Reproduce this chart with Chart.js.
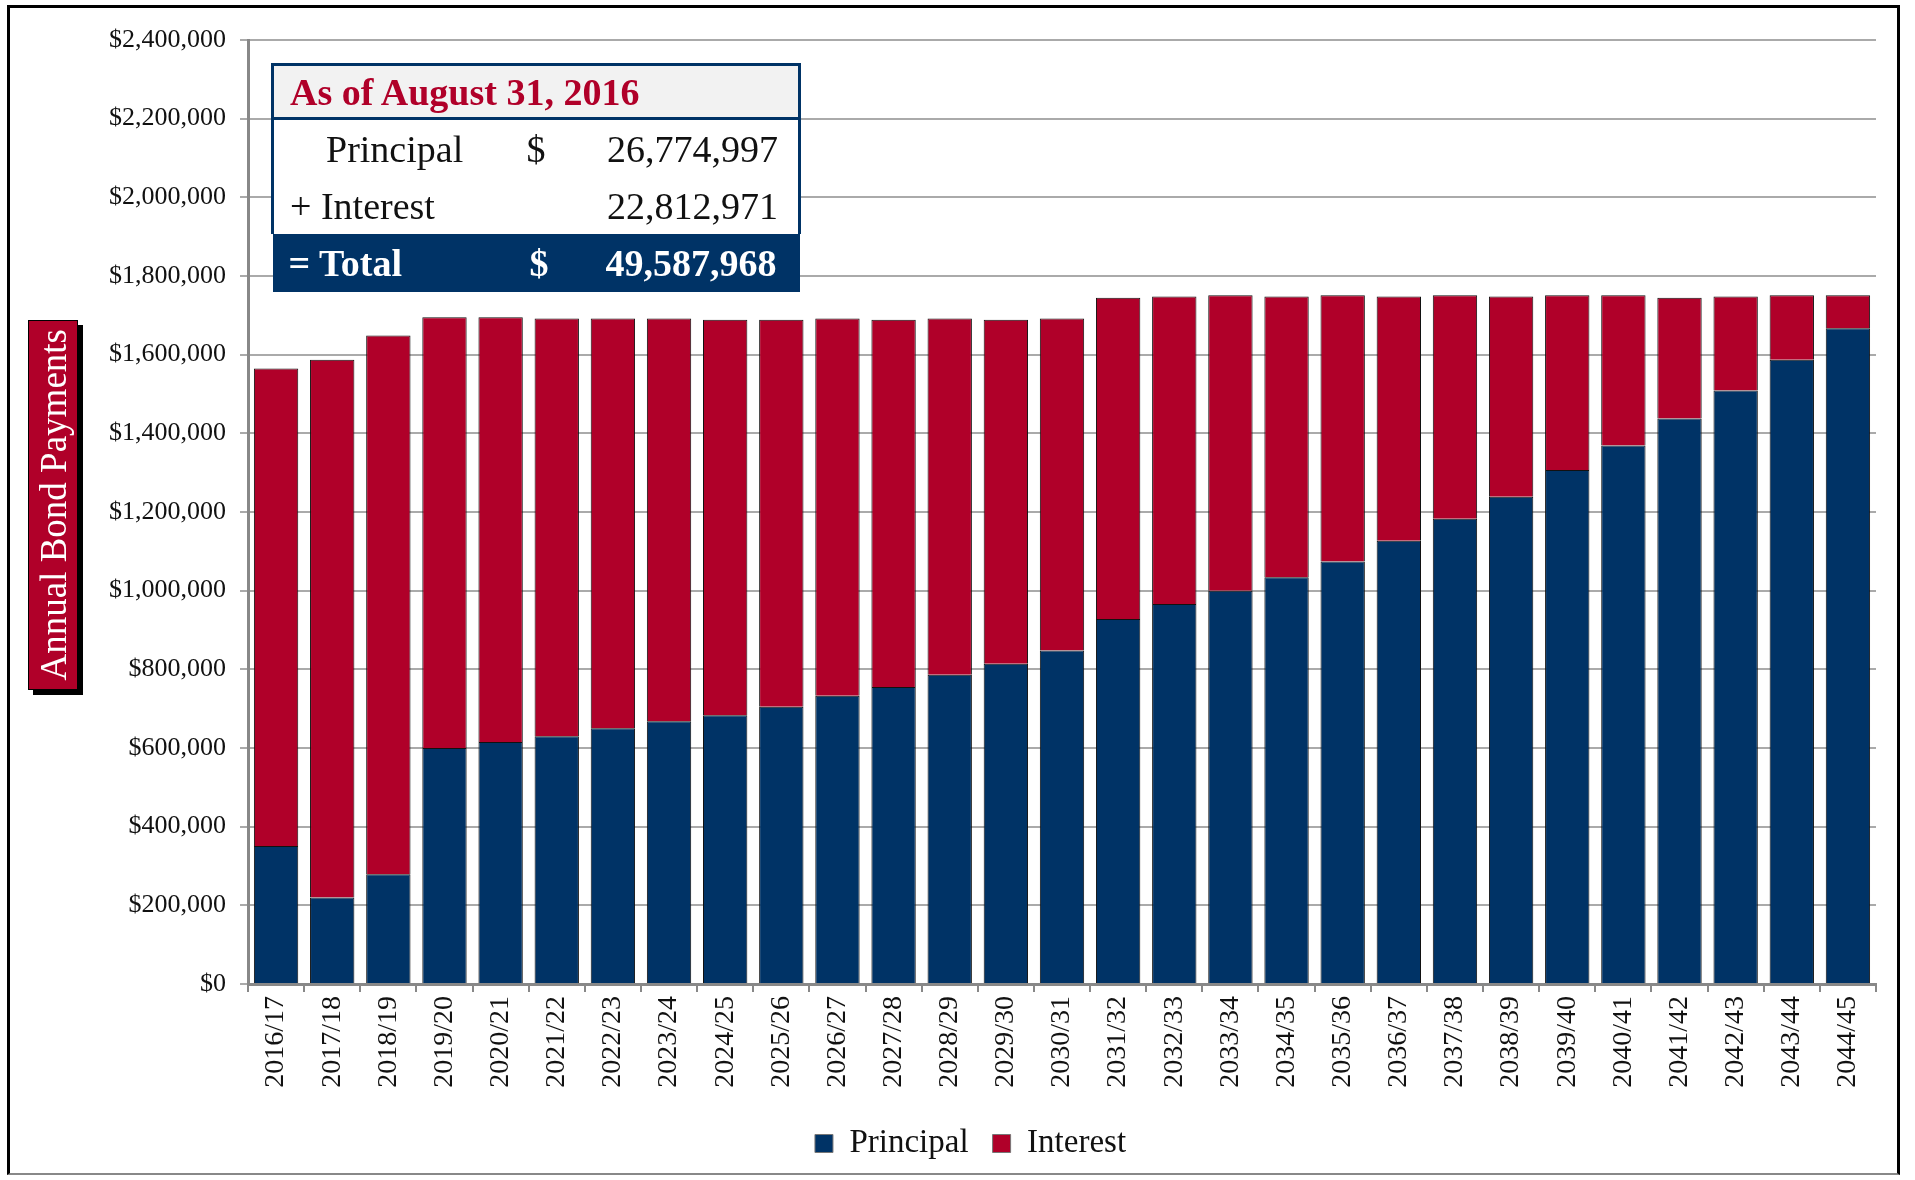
<!DOCTYPE html>
<html>
<head>
<meta charset="utf-8">
<script src="https://cdn.jsdelivr.net/npm/chart.js@4"></script>
<style>
  html, body { margin: 0; padding: 0; background: #fff; }
  #wrap { position: relative; width: 1915px; height: 1180px; }
  #frame { position: absolute; left: 7px; top: 5px; width: 1893px; height: 1170px;
    border-left: 3px solid #000; border-top: 3px solid #000; border-right: 3px solid #000;
    border-bottom: 2px solid #888; box-sizing: border-box; }
  canvas { position: absolute; left: 0; top: 0; }
  #ytitle { position: absolute; left: 28px; top: 320px; width: 48px; height: 368px;
    background: #b00029; border: 1px solid #000; box-shadow: 5px 5px 0 #000;
    display: flex; align-items: center; justify-content: center; }
  #ytitle span { writing-mode: vertical-rl; transform: rotate(180deg); color: #fff;
    font-family: "Liberation Serif", serif; font-size: 37px; white-space: nowrap; }
  #summary { position: absolute; left: 271px; top: 63px; width: 530px; table-layout: fixed;
    font-family: "Liberation Serif", serif; font-size: 38px; border-collapse: collapse; }
  #summary td { padding: 0; line-height: 1; }
  #summary .head td { background: #f2f2f2; color: #b00029; font-weight: bold; padding-left: 16px;
    border: 3px solid #003366; height: 51px; }
  #summary .row td { background: #fff; color: #111; height: 57px; }
  #summary .tot td { background: #003366; color: #fff; font-weight: bold; height: 58px; }
  #summary .l { border-left: 3px solid #003366; }
  #summary .r { border-right: 3px solid #003366; text-align: right; padding-right: 20px; }
</style>
</head>
<body>
<div id="wrap">
  <canvas id="chart" width="1915" height="1180"></canvas>
  <div id="frame"></div>
  <div id="ytitle"><span>Annual Bond Payments</span></div>
  <table id="summary">
    <colgroup><col style="width:254px"><col style="width:60px"><col></colgroup>
    <tr class="head"><td colspan="3">As of August 31, 2016</td></tr>
    <tr class="row"><td class="l" style="padding-left:52px">Principal</td><td>$</td><td class="r">26,774,997</td></tr>
    <tr class="row"><td class="l" style="padding-left:16px">+ Interest</td><td></td><td class="r">22,812,971</td></tr>
    <tr class="tot"><td style="padding-left:16px">= Total</td><td style="padding-left:3px">$</td><td style="text-align:right;padding-right:23px">49,587,968</td></tr>
  </table>
</div>
<script>
const years = ["2016/17", "2017/18", "2018/19", "2019/20", "2020/21", "2021/22", "2022/23", "2023/24",
  "2024/25", "2025/26", "2026/27", "2027/28", "2028/29", "2029/30", "2030/31", "2031/32", "2032/33",
  "2033/34", "2034/35", "2035/36", "2036/37", "2037/38", "2038/39", "2039/40", "2040/41", "2041/42",
  "2042/43", "2043/44", "2044/45"];

// in dollars
const principal = [351000, 220000, 279000, 600000, 615000, 630000, 650000, 668000, 683000, 705000,
  733000, 755000, 786000, 814000, 848000, 928000, 966000, 1000000, 1034000, 1074000, 1127000,
  1183000, 1239000, 1307000, 1369000, 1438000, 1509000, 1587000, 1667000];
const interest = [1214000, 1367000, 1370000, 1095000, 1080000, 1062000, 1042000, 1024000, 1006000,
  984000, 959000, 934000, 906000, 875000, 844000, 817000, 782000, 751000, 714000, 677000, 621000,
  568000, 509000, 444000, 382000, 307000, 239000, 164000, 84000];

const yMax = 2400000;
const yStep = 200000;

const navy = "#003366";
const red = "#b00029";

new Chart(document.getElementById("chart"), {
  type: "bar",
  data: {
    labels: years,
    datasets: [
      { label: "Principal", data: principal, backgroundColor: navy, borderColor: "#111", borderWidth: 1,
        barPercentage: 0.79, categoryPercentage: 1 },
      { label: "Interest", data: interest, backgroundColor: red, borderColor: "#111", borderWidth: 1,
        barPercentage: 0.79, categoryPercentage: 1 },
    ],
  },
  options: {
    responsive: false,
    animation: false,
    // left padding nudges the legend to where it sits in the original
    layout: { padding: { left: 26, right: 0, top: 40, bottom: 10 } },
    plugins: {
      tooltip: { enabled: false },
      legend: {
        position: "bottom",
        labels: {
          color: "#111",
          font: { family: "Liberation Serif", size: 33 },
          boxWidth: 18,
          boxHeight: 18,
          padding: 24,
          generateLabels: (chart) => chart.data.datasets.map((ds, i) => ({
            text: ds.label, fillStyle: ds.backgroundColor, strokeStyle: "#777", lineWidth: 1,
            fontColor: "#111", datasetIndex: i,
          })),
        },
      },
    },
    scales: {
      x: {
        stacked: true,
        afterFit: (scale) => { scale.height = 119; },
        grid: { drawOnChartArea: false, color: "#888", tickLength: 8, lineWidth: 2 },
        border: { color: "#888", width: 3 },
        ticks: { color: "#111", font: { family: "Liberation Serif", size: 28 },
          maxRotation: 90, minRotation: 90, padding: 4 },
      },
      y: {
        stacked: true,
        min: 0,
        max: yMax,
        afterFit: (scale) => { scale.width = 222; },
        grid: { color: "#aaa", lineWidth: 2, tickLength: 8 },
        border: { color: "#888", width: 3 },
        ticks: {
          stepSize: yStep,
          color: "#111",
          font: { family: "Liberation Serif", size: 26 },
          padding: 14,
          callback: (v) => "$" + v.toLocaleString("en-US"),
        },
      },
      // empty spacer on the right so the plot ends where the original does
      spacer: {
        position: "right",
        grid: { display: false },
        border: { display: false },
        ticks: { display: false },
        afterFit: (scale) => { scale.width = 39; },
      },
    },
  },
});
</script>
</body>
</html>
